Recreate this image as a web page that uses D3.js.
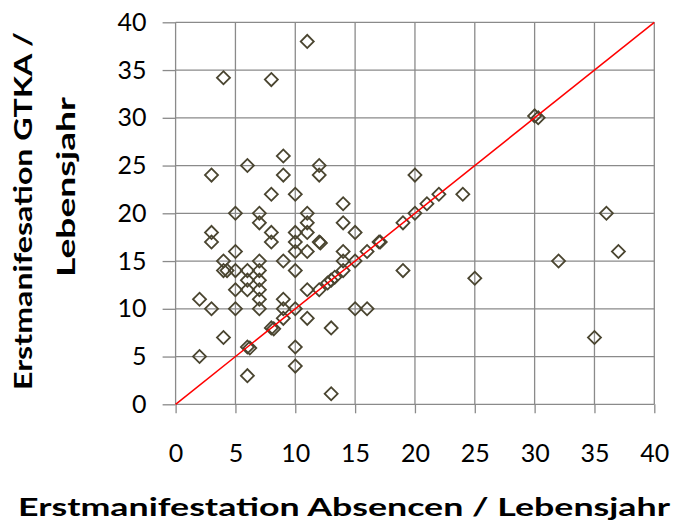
<!DOCTYPE html>
<head>
  <meta charset="utf-8">
  <script src="https://d3js.org/d3.v7.min.js"></script>
  <style>
    body { margin:0; background:#fff; }
    text { font-family: Lato, "Open Sans", sans-serif; fill:#000; }
    .title { font-weight: bold; font-size: 25px; }
  </style>
</head>

<body>
  <div class="body"></div>
  <script>
    // Erstmanifestation Absencen (x) vs. GTKA (y), in Lebensjahren
    const absencen = [2, 2, 3, 3, 3, 3, 4, 4, 4, 4.3, 4,
      5, 5, 5, 5, 5, 6, 6, 6, 6, 6, 6.2, 6,
      7, 7, 7, 7, 7, 7, 7, 7, 8, 8, 8, 8, 8, 8.2,
      9, 9, 9, 9, 9, 9, 10, 10, 10, 10, 10, 10, 10, 10,
      11, 11, 11, 11, 11, 11, 11, 12, 12, 12, 12.1, 12, 12.7, 13.3,
      13, 13, 13, 14, 14, 14, 14, 14, 15, 15, 15, 16, 16, 17, 17.1,
      19, 19, 20, 20, 21, 22, 24, 25, 30, 30.3, 32, 35, 36, 37];
    const gtka = [11, 5, 24, 18, 17, 10, 34.2, 15, 14, 14, 7,
      20, 16, 14, 12, 10, 25, 14, 13, 12, 6, 5.9, 3,
      20, 19, 15, 14, 13, 12, 11, 10, 34, 22, 18, 17, 8, 7.9,
      26, 24, 15, 11, 10, 9, 22, 18, 17, 16, 14, 10, 6, 4,
      38, 20, 19, 18, 16, 12, 9, 25, 24, 17, 16.9, 12, 12.7, 13.3,
      13, 8, 1.1, 21, 19, 16, 15, 14, 18, 15, 10, 16, 10, 17, 17,
      19, 14, 24, 20, 21, 22, 22, 13.2, 30.2, 30, 15, 7, 20, 16];
    const tickValues = [0, 5, 10, 15, 20, 25, 30, 35, 40];
    const xTitle = "Erstmanifestation Absencen / Lebensjahr";
    const yTitle = ["Erstmanifesation GTKA /", "Lebensjahr"];

    const margin = {top: 22.3, right: 19.7, bottom: 117.7, left: 175.6},
      width = 674 - margin.left - margin.right,
      height = 522 - margin.top - margin.bottom;

    const points = absencen.map(function(d, i) { return {x: d, y: gtka[i]}; });

    const x = d3.scaleLinear().domain([0, 40]).range([0, width]);
    const y = d3.scaleLinear().domain([0, 40]).range([height, 0]);

    const root = d3.select(".body").append("svg")
      .attr("width", 674)
      .attr("height", 522);

    const svg = root.append("g")
      .attr("transform", "translate(" + margin.left + "," + margin.top + ")");

    // gridlines
    svg.selectAll(".vgrid").data(tickValues).enter().append("line")
      .attr("x1", d => x(d)).attr("x2", d => x(d))
      .attr("y1", 0).attr("y2", height)
      .attr("stroke", "#8a8a8a").attr("stroke-width", 1.3);
    svg.selectAll(".hgrid").data(tickValues).enter().append("line")
      .attr("x1", 0).attr("x2", width)
      .attr("y1", d => y(d)).attr("y2", d => y(d))
      .attr("stroke", "#8a8a8a").attr("stroke-width", 1.3);

    // axes
    const xAxis = svg.append("g")
      .attr("transform", "translate(0," + height + ")")
      .call(d3.axisBottom(x).tickValues(tickValues).tickSize(9).tickPadding(31));
    const yAxis = svg.append("g")
      .call(d3.axisLeft(y).tickValues(tickValues).tickSize(13).tickPadding(16));
    [xAxis, yAxis].forEach(function(a) {
      a.select(".domain").remove();
      a.selectAll("line").attr("stroke", "#8a8a8a").attr("stroke-width", 1.3);
      a.selectAll("text").attr("font-size", 25).attr("font-family", "Lato").attr("fill", "#000");
    });

    // markers
    svg.selectAll(".pt").data(points).enter().append("path")
      .attr("d", d3.symbol().type(d3.symbolSquare).size(85))
      .attr("transform", d => "translate(" + x(d.x) + "," + y(d.y) + ") rotate(45)")
      .attr("fill", "none")
      .attr("stroke", "#4a4530")
      .attr("stroke-width", 1.8);

    // diagonal
    svg.append("line")
      .attr("x1", x(0)).attr("y1", y(0))
      .attr("x2", x(40)).attr("y2", y(40))
      .attr("stroke", "#ff0000").attr("stroke-width", 1.5);

    // titles
    root.append("text").attr("class", "title")
      .attr("x", 18).attr("y", 516)
      .attr("textLength", 652).attr("lengthAdjust", "spacingAndGlyphs")
      .text(xTitle);
    root.append("text").attr("class", "title")
      .attr("transform", "translate(32,390) rotate(-90)")
      .attr("textLength", 358).attr("lengthAdjust", "spacingAndGlyphs")
      .text(yTitle[0]);
    root.append("text").attr("class", "title")
      .attr("transform", "translate(75,277) rotate(-90)")
      .attr("textLength", 180).attr("lengthAdjust", "spacingAndGlyphs")
      .text(yTitle[1]);
  </script>
</body>
